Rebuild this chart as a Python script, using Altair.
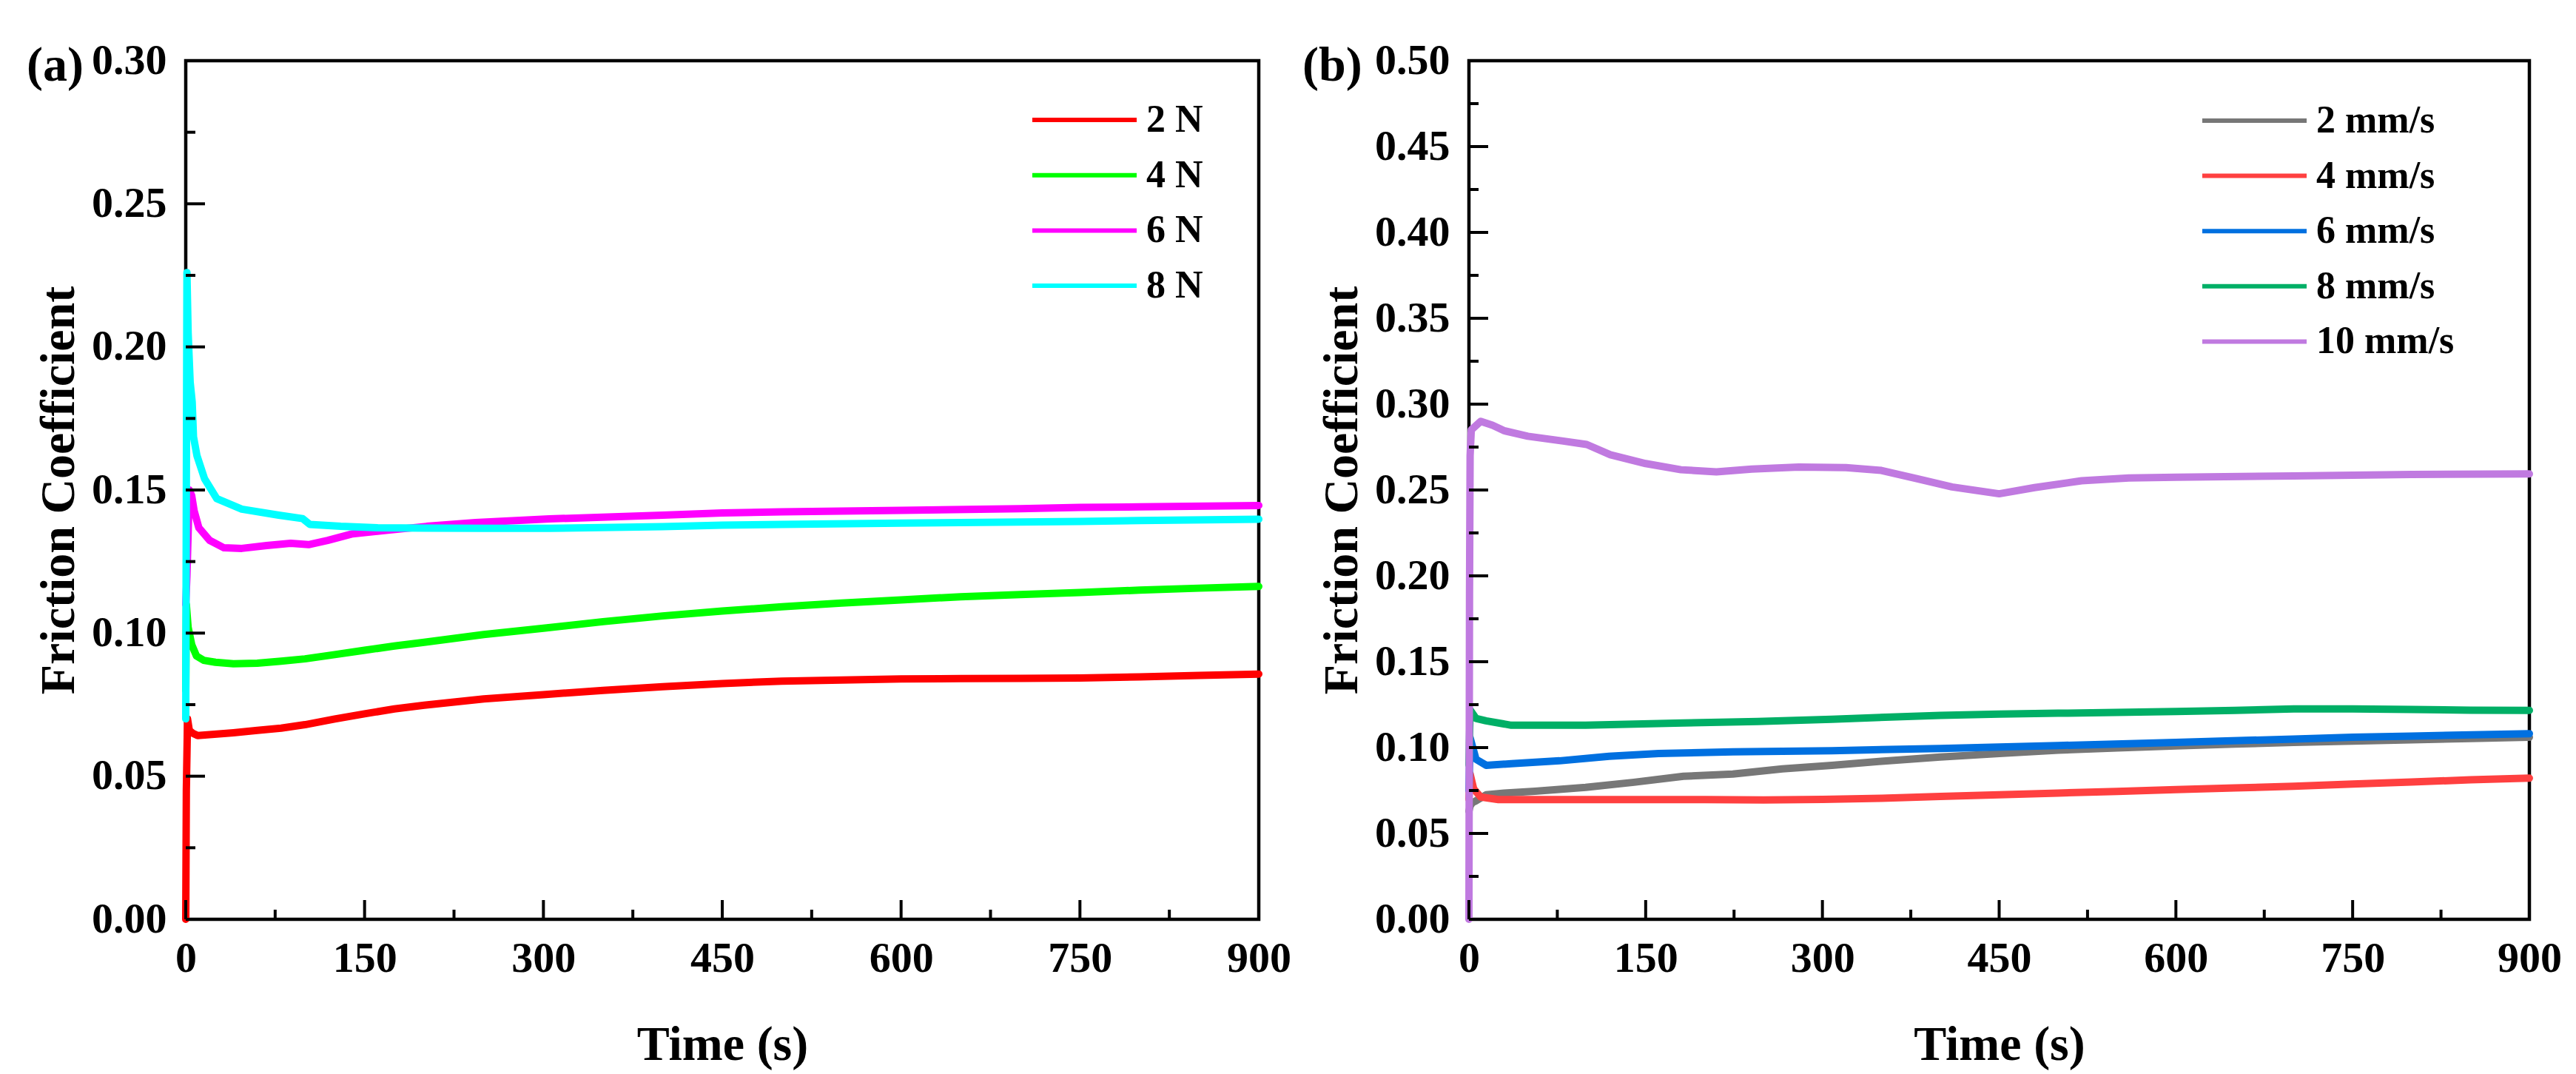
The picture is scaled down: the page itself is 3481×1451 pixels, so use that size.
import altair as alt
import pandas as pd

FONT = "Liberation Serif"

# ---------------- panel (a): normal load ----------------
a_labels = ["2 N", "4 N", "6 N", "8 N"]
a_colors = ["#FF0000", "#00FF00", "#FF00FF", "#00FFFF"]

t_2N = [0, 0.5, 1.5, 3, 6, 10, 20, 40, 60, 80, 100, 125, 150, 175, 200, 250, 300, 350, 400, 450, 500, 550, 600, 650, 700, 750, 800, 850, 900]
f_2N = [0.0, 0.045, 0.070, 0.066, 0.065, 0.0642, 0.0645, 0.0652, 0.066, 0.0668, 0.068, 0.070, 0.0718, 0.0735, 0.0748, 0.077, 0.0785, 0.080, 0.0813, 0.0824, 0.0832, 0.0836, 0.084, 0.0841, 0.0842, 0.0843, 0.0847, 0.0852, 0.0857]

t_4N = [0, 0.5, 2, 5, 9, 15, 25, 40, 60, 80, 100, 125, 150, 175, 200, 250, 300, 350, 400, 450, 500, 550, 600, 650, 700, 750, 800, 850, 900]
f_4N = [0.080, 0.110, 0.102, 0.096, 0.092, 0.0905, 0.0898, 0.0893, 0.0895, 0.0902, 0.091, 0.0925, 0.094, 0.0955, 0.0968, 0.0995, 0.1017, 0.104, 0.106, 0.1077, 0.1092, 0.1105, 0.1116, 0.1127, 0.1135, 0.1142, 0.115, 0.1157, 0.1163]

t_6N = [0, 1, 3, 5, 7, 11, 20, 32, 47, 68, 88, 103, 119, 140, 171, 202, 243, 305, 400, 450, 500, 600, 700, 750, 800, 900]
f_6N = [0.110, 0.120, 0.150, 0.148, 0.1428, 0.1368, 0.1324, 0.1298, 0.1296, 0.1306, 0.1314, 0.1309, 0.1324, 0.1347, 0.136, 0.1373, 0.1386, 0.1399, 0.1412, 0.142, 0.1424, 0.1429, 0.1435, 0.1439, 0.1441, 0.1446]

t_8N = [0, 0.5, 1, 2, 3.7, 5.4, 6.5, 9.4, 15.7, 26, 47, 78, 98, 104, 130, 161, 200, 250, 305, 400, 450, 500, 600, 700, 750, 800, 900]
f_8N = [0.070, 0.150, 0.226, 0.205, 0.1877, 0.1808, 0.1686, 0.162, 0.154, 0.147, 0.1433, 0.1412, 0.140, 0.138, 0.1373, 0.1368, 0.1367, 0.1366, 0.1366, 0.1372, 0.1377, 0.138, 0.1384, 0.1388, 0.139, 0.1393, 0.1398]

# ---------------- panel (b): sliding speed ----------------
b_labels = ["2 mm/s", "4 mm/s", "6 mm/s", "8 mm/s", "10 mm/s"]
b_colors = ["#777777", "#FF4040", "#0070E0", "#00AF66", "#C07AE0"]

t_2 = [0, 1, 3, 6, 14.6, 30, 56, 99, 140, 182, 224, 266, 308, 350, 400, 450, 500, 550, 600, 650, 700, 750, 800, 850, 900]
f_2 = [0.063, 0.066, 0.068, 0.069, 0.0725, 0.0735, 0.0746, 0.0768, 0.0798, 0.0833, 0.0846, 0.0876, 0.0897, 0.092, 0.0945, 0.0965, 0.0985, 0.0998, 0.101, 0.102, 0.103, 0.1038, 0.1045, 0.1053, 0.106]

t_4 = [0, 1, 4, 10, 25, 100, 200, 250, 300, 350, 400, 450, 500, 550, 600, 650, 700, 750, 800, 850, 900]
f_4 = [0.070, 0.0846, 0.076, 0.0712, 0.0697, 0.0697, 0.0697, 0.0695, 0.0698, 0.0705, 0.0715, 0.0725, 0.0735, 0.0745, 0.0755, 0.0765, 0.0775, 0.0788, 0.0800, 0.0812, 0.0822]

t_6 = [0, 1, 6, 14.6, 36, 77, 119, 161, 224, 308, 400, 450, 500, 600, 700, 750, 800, 900]
f_6 = [0.075, 0.1057, 0.0932, 0.0897, 0.0906, 0.0923, 0.0949, 0.0966, 0.0975, 0.0982, 0.0995, 0.1003, 0.1012, 0.103, 0.105, 0.106, 0.1067, 0.1081]

t_8 = [0, 1, 6, 14.6, 36, 99, 182, 245, 308, 400, 450, 500, 600, 650, 700, 750, 800, 850, 900]
f_8 = [0.090, 0.122, 0.117, 0.1156, 0.113, 0.113, 0.1143, 0.1152, 0.1165, 0.1188, 0.1195, 0.120, 0.121, 0.1217, 0.1225, 0.1225, 0.1222, 0.1218, 0.1217]

t_10 = [0, 0.5, 1, 2, 10, 20, 30, 50, 80, 100, 120, 150, 180, 210, 240, 280, 320, 350, 380, 410, 450, 480, 520, 560, 600, 700, 800, 900]
f_10 = [0.0, 0.19, 0.27, 0.285, 0.29, 0.2877, 0.2845, 0.2813, 0.2785, 0.2765, 0.2705, 0.2654, 0.2618, 0.2606, 0.2622, 0.2634, 0.263, 0.2614, 0.2566, 0.2518, 0.2478, 0.2514, 0.2554, 0.257, 0.2574, 0.2582, 0.259, 0.2594]

# ---------------- axes ----------------
x_major = [0, 150, 300, 450, 600, 750, 900]
x_minor = [75, 225, 375, 525, 675, 825]
a_y_major = [0.0, 0.05, 0.10, 0.15, 0.20, 0.25, 0.30]
a_y_minor = [0.025, 0.075, 0.125, 0.175, 0.225, 0.275]
b_y_major = [0.0, 0.05, 0.10, 0.15, 0.20, 0.25, 0.30, 0.35, 0.40, 0.45, 0.50]
b_y_minor = [0.025, 0.075, 0.125, 0.175, 0.225, 0.275, 0.325, 0.375, 0.425, 0.475]


def long_df(labels, ts_list, fs_list):
    rows = []
    for lab, ts, fs in zip(labels, ts_list, fs_list):
        for t, f in zip(ts, fs):
            rows.append({"series": lab, "t": t, "f": f})
    return pd.DataFrame(rows)


def panel(df, labels, colors, y_major, y_minor, y_max, W, H, tag, tag_x, leg_x, leg_y, row_pad):
    xs = alt.Scale(domain=[0, 900], nice=False, zero=False)
    ys = alt.Scale(domain=[0, y_max], nice=False, zero=False)
    x_axis = alt.Axis(values=x_major, title="Time (s)", labelPadding=24, labelFlush=False,
                      labelOverlap=False, ticks=False, tickSize=0, domain=False, grid=False,
                      titleY=189, titleBaseline="alphabetic")
    y_axis = alt.Axis(values=y_major, format=".2f", title="Friction Coefficient", labelPadding=26,
                      labelFlush=False, labelOverlap=False, ticks=False, tickSize=0, domain=False,
                      grid=False, titleX=-152, titleY=H / 2, titleAngle=270,
                      titleBaseline="alphabetic", titleAlign="center")
    legend = alt.Legend(orient="none", legendX=leg_x, legendY=leg_y, title=None, padding=0,
                        symbolType="M-7,0H7", symbolSize=406, symbolStrokeWidth=6,
                        labelFont=FONT, labelFontSize=52, labelFontWeight="bold", labelColor="black",
                        labelOffset=57.5, labelLimit=0, rowPadding=row_pad)
    lines = alt.Chart(df).mark_line(strokeWidth=10, strokeJoin="round", strokeCap="round").encode(
        x=alt.X("t:Q", scale=xs, axis=x_axis),
        y=alt.Y("f:Q", scale=ys, axis=y_axis),
        color=alt.Color("series:N", scale=alt.Scale(domain=labels, range=colors), sort=labels, legend=legend),
        order="t:Q",
    )

    def yticks(vals, L):
        return alt.Chart(pd.DataFrame({"f": vals})).mark_rule(color="black", strokeWidth=4).encode(
            y=alt.Y("f:Q", scale=ys, axis=y_axis), x=alt.value(0), x2=alt.value(L))

    def xticks(vals, L):
        return alt.Chart(pd.DataFrame({"t": vals})).mark_rule(color="black", strokeWidth=4).encode(
            x=alt.X("t:Q", scale=xs, axis=x_axis), y=alt.value(H), y2=alt.value(H - L))

    txt = alt.Chart(pd.DataFrame({"lab": [tag]})).mark_text(
        font=FONT, fontSize=66, fontWeight="bold", align="left", baseline="alphabetic", color="black"
    ).encode(x=alt.value(tag_x), y=alt.value(27), text="lab:N")
    return alt.layer(lines, yticks(y_major, 26), yticks(y_minor, 13), xticks(x_major, 26),
                     xticks(x_minor, 13), txt).properties(width=W, height=H)


df_a = long_df(a_labels, [t_2N, t_4N, t_6N, t_8N], [f_2N, f_4N, f_6N, f_8N])
df_b = long_df(b_labels, [t_2, t_4, t_6, t_8, t_10], [f_2, f_4, f_6, f_8, f_10])

pa = panel(df_a, a_labels, a_colors, a_y_major, a_y_minor, 0.30, 1450, 1160, "(a)", -215, 1188.5, 54, 22.7)
pb = panel(df_b, b_labels, b_colors, b_y_major, b_y_minor, 0.50, 1433, 1160, "(b)", -225, 1035.5, 55, 22.6)

chart = alt.hconcat(pa, pb, spacing=10).resolve_scale(color="independent").properties(
    padding={"left": 25, "top": 42, "right": 5, "bottom": 0}, background="white"
).configure_view(stroke="black", strokeWidth=4.5).configure_axis(
    labelFont=FONT, labelFontSize=58, labelFontWeight="bold", labelColor="black",
    titleFont=FONT, titleFontSize=66, titleFontWeight="bold", titleColor="black"
)

chart.save("out.html", embed_options={"renderer": "svg", "actions": False})
